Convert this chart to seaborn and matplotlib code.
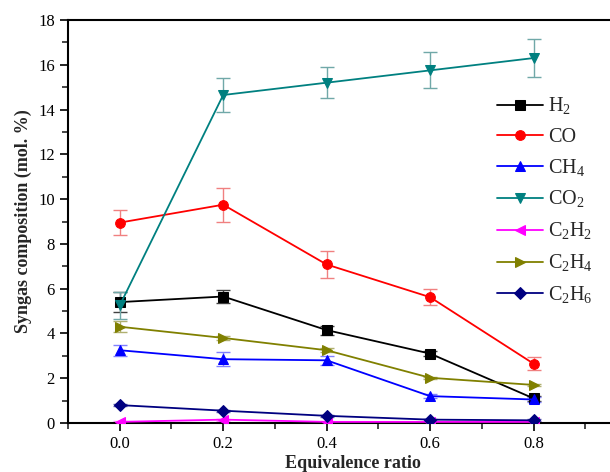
import matplotlib
matplotlib.use("Agg")
import matplotlib.pyplot as plt
import matplotlib.ticker as mticker
import seaborn as sns
import pandas as pd

ratio = [0.0, 0.2, 0.4, 0.6, 0.8]

h2 = [5.4, 5.65, 4.15, 3.1, 1.1]
co = [8.95, 9.75, 7.08, 5.62, 2.65]
ch4 = [3.25, 2.85, 2.8, 1.2, 1.05]
co2 = [5.25, 14.65, 15.2, 15.75, 16.3]
c2h2 = [0.05, 0.15, 0.05, 0.05, 0.05]
c2h4 = [4.3, 3.8, 3.25, 2.02, 1.7]
c2h6 = [0.8, 0.55, 0.32, 0.15, 0.12]

h2_err = [0.45, 0.3, 0.2, 0.1, 0.1]
co_err = [0.55, 0.75, 0.6, 0.35, 0.3]
ch4_err = [0.25, 0.3, 0.2, 0.1, 0.1]
co2_err = [0.6, 0.75, 0.7, 0.8, 0.85]
c2h2_err = [0.05, 0.05, 0.05, 0.05, 0.05]
c2h4_err = [0.25, 0.1, 0.1, 0.05, 0.05]
c2h6_err = [0.05, 0.05, 0.05, 0.05, 0.05]

gases = ["H$_2$", "CO", "CH$_4$", "CO$_2$", "C$_2$H$_2$", "C$_2$H$_4$", "C$_2$H$_6$"]
values = [h2, co, ch4, co2, c2h2, c2h4, c2h6]
errors = [h2_err, co_err, ch4_err, co2_err, c2h2_err, c2h4_err, c2h6_err]
colors = ["black", "red", "blue", "#008080", "magenta", "#808000", "#000080"]
err_colors = ["#404040", "#f08080", "#8080ff", "#70a8a8", "#ff90ff", "#b0b070", "#6060b0"]
markers = ["s", "o", "^", "v", "<", ">", "D"]

rows = []
for g, vals, errs in zip(gases, values, errors):
    for x, v, e in zip(ratio, vals, errs):
        rows.append({"ratio": x, "value": v, "err": e, "gas": g})
df = pd.DataFrame(rows)

sns.set_style("ticks")
plt.rcParams["font.family"] = ["Liberation Serif", "DejaVu Serif"]
plt.rcParams["mathtext.fontset"] = "custom"
plt.rcParams["mathtext.rm"] = "Liberation Serif"

fig = plt.figure(figsize=(6.1, 4.72), dpi=100)
ax = fig.add_axes([68 / 610, 49 / 472, 569 / 610, 403 / 472])

for g, c, ec, m in zip(gases, colors, err_colors, markers):
    sub = df[df["gas"] == g]
    ax.errorbar(sub["ratio"], sub["value"], yerr=sub["err"], fmt="none",
                ecolor=ec, elinewidth=1, capsize=5, capthick=1, zorder=2)
    sns.lineplot(data=sub, x="ratio", y="value", ax=ax, color=c, marker=m,
                 markersize=7 if m != "D" else 6, markeredgecolor=c,
                 linewidth=1.3, label=g, zorder=3)

ax.set_xlim(-0.1, 1.0)
ax.set_ylim(0, 18)
ax.set_xticks(ratio)
ax.set_xticklabels(["0.0", "0.2", "0.4", "0.6", "0.8"])
ax.xaxis.set_minor_locator(mticker.FixedLocator([-0.1, 0.1, 0.3, 0.5, 0.7, 0.9]))
ax.yaxis.set_major_locator(mticker.MultipleLocator(2))
ax.yaxis.set_minor_locator(mticker.MultipleLocator(1))
ax.tick_params(axis="both", which="major", direction="out", length=6, width=1.2,
               labelsize=12, colors="black")
ax.tick_params(axis="both", which="minor", direction="out", length=4, width=1.2)
for s in ax.spines.values():
    s.set_linewidth(1.5)
    s.set_color("black")

ax.set_xlabel("Equivalence ratio", fontsize=13, fontweight="bold", labelpad=2)
ax.set_ylabel("Syngas composition (mol. %)", fontsize=13, fontweight="bold")

ax.legend(loc="upper left", bbox_to_anchor=(497 / 610, 1 - 96 / 472),
          bbox_transform=fig.transFigure, borderaxespad=0, borderpad=0,
          frameon=False, fontsize=14.5, handlelength=2.3, labelspacing=0.52,
          handletextpad=0.25)

fig.savefig("out.png", dpi=100)
